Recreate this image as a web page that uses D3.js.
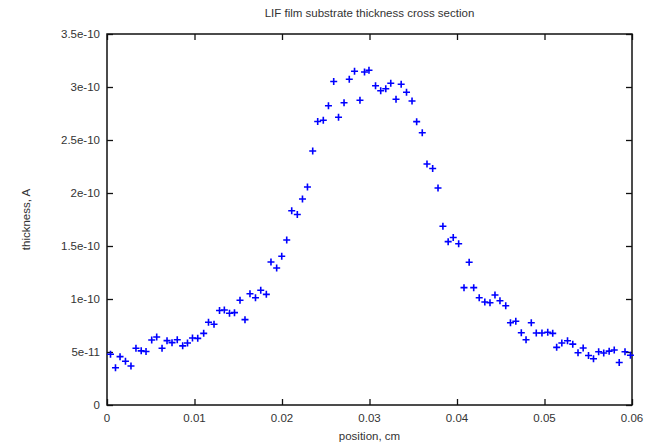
<!DOCTYPE html>
<html>
<head>
<meta charset="utf-8">
<script src="https://cdn.jsdelivr.net/npm/d3@7"></script>
<style>
	body { margin: 0; background: #fff; }
	text { font-family: "Liberation Sans", Arial, sans-serif; fill: #333; }
</style>
</head>
<body>
<svg id="chart" width="651" height="443"></svg>
<script>
// position along the sample, cm
var positions = [
	0.0004, 0.00097, 0.00149, 0.00211, 0.00274, 0.00331, 0.00391, 0.00446, 0.00511, 0.00568,
	0.00629, 0.00686, 0.00743, 0.00803, 0.00865, 0.0092, 0.00977, 0.01037, 0.01105, 0.0116,
	0.01223, 0.01286, 0.01341, 0.014, 0.01457, 0.0152, 0.01577, 0.01634, 0.01697, 0.01757,
	0.01821, 0.01874, 0.01939, 0.01997, 0.02054, 0.02111, 0.02175, 0.02234, 0.02291, 0.02351,
	0.02408, 0.02472, 0.02531, 0.02591, 0.02646, 0.02709, 0.02769, 0.02829, 0.02891, 0.02943,
	0.02994, 0.03069, 0.03128, 0.03186, 0.03243, 0.03303, 0.03362, 0.03423, 0.03486, 0.03539,
	0.03603, 0.03657, 0.03722, 0.03783, 0.03839, 0.03899, 0.03957, 0.04019, 0.0408, 0.04139,
	0.04191, 0.04254, 0.04318, 0.04377, 0.04434, 0.04491, 0.04557, 0.04611, 0.04672, 0.04735,
	0.04789, 0.04849, 0.04906, 0.04971, 0.05037, 0.05094, 0.05139, 0.05198, 0.05263, 0.05323,
	0.05383, 0.05442, 0.05503, 0.0556, 0.05619, 0.05677, 0.05739, 0.05797, 0.05854, 0.0592,
	0.05982
];

// thickness in units of 1e-10
var thickness = [
	0.479, 0.352, 0.456, 0.413, 0.368, 0.535, 0.511, 0.505, 0.613, 0.642,
	0.535, 0.607, 0.588, 0.616, 0.558, 0.585, 0.632, 0.629, 0.676, 0.780,
	0.762, 0.892, 0.896, 0.865, 0.871, 0.988, 0.805, 1.050, 1.012, 1.082,
	1.044, 1.349, 1.292, 1.403, 1.557, 1.833, 1.797, 1.943, 2.057, 2.396,
	2.675, 2.686, 2.823, 3.052, 2.714, 2.852, 3.073, 3.149, 2.875, 3.142,
	3.158, 3.012, 2.965, 2.984, 3.035, 2.884, 3.026, 2.950, 2.868, 2.673,
	2.569, 2.274, 2.231, 2.047, 1.687, 1.541, 1.580, 1.521, 1.107, 1.347,
	1.107, 1.012, 0.972, 0.965, 1.038, 0.983, 0.936, 0.776, 0.790, 0.681,
	0.616, 0.776, 0.679, 0.679, 0.686, 0.676, 0.544, 0.585, 0.606, 0.574,
	0.493, 0.538, 0.467, 0.437, 0.503, 0.491, 0.508, 0.519, 0.401, 0.503,
	0.470
];

var xTicks = [0, 0.01, 0.02, 0.03, 0.04, 0.05, 0.06];
var xTickLabels = ["0", "0.01", "0.02", "0.03", "0.04", "0.05", "0.06"];
var yTicks = [0, 0.5e-10, 1e-10, 1.5e-10, 2e-10, 2.5e-10, 3e-10, 3.5e-10];
var yTickLabels = ["0", "5e-11", "1e-10", "1.5e-10", "2e-10", "2.5e-10", "3e-10", "3.5e-10"];

var svg = d3.select("#chart");
var plotL = 107, plotR = 632, plotT = 34, plotB = 405;

var x = d3.scaleLinear().domain([0, 0.06]).range([plotL, plotR]);
var y = d3.scaleLinear().domain([0, 3.5e-10]).range([plotB, plotT]);

// gnuplot style: ticks pointing inward on all four sides
var tickLen = 6;
function noDomain(g) { g.select(".domain").remove(); }
svg.append("g")
	.attr("transform", "translate(0," + plotB + ")")
	.call(d3.axisTop(x).tickValues(xTicks).tickSize(tickLen).tickFormat(""))
	.call(noDomain);
svg.append("g")
	.attr("transform", "translate(0," + plotT + ")")
	.call(d3.axisBottom(x).tickValues(xTicks).tickSize(tickLen).tickFormat(""))
	.call(noDomain);
svg.append("g")
	.attr("transform", "translate(" + plotL + ",0)")
	.call(d3.axisRight(y).tickValues(yTicks).tickSize(tickLen).tickFormat(""))
	.call(noDomain);
svg.append("g")
	.attr("transform", "translate(" + plotR + ",0)")
	.call(d3.axisLeft(y).tickValues(yTicks).tickSize(tickLen).tickFormat(""))
	.call(noDomain);
svg.selectAll(".tick line").attr("stroke", "#111").attr("stroke-width", 1.3);

// tick labels
svg.append("g").selectAll("text")
	.data(xTicks)
	.enter().append("text")
		.attr("x", function(d) { return x(d); })
		.attr("y", plotB + 17)
		.attr("text-anchor", "middle")
		.style("font-size", "11.5px")
		.text(function(d, i) { return xTickLabels[i]; });
svg.append("g").selectAll("text")
	.data(yTicks)
	.enter().append("text")
		.attr("x", plotL - 7)
		.attr("y", function(d) { return y(d) + 4; })
		.attr("text-anchor", "end")
		.style("font-size", "11.5px")
		.text(function(d, i) { return yTickLabels[i]; });

// frame
svg.append("rect")
	.attr("x", plotL).attr("y", plotT)
	.attr("width", plotR - plotL).attr("height", plotB - plotT)
	.attr("fill", "none")
	.attr("stroke", "#111")
	.attr("stroke-width", 1.5);

// data points as + marks
var pts = positions.map(function(p, i) { return { x: p, y: thickness[i] * 1e-10 }; });
var s = 3.5;
svg.append("g").selectAll("path")
	.data(pts)
	.enter().append("path")
		.attr("d", function(d) {
			var p = d3.path();
			var cx = x(d.x), cy = y(d.y);
			p.moveTo(cx - s, cy); p.lineTo(cx + s, cy);
			p.moveTo(cx, cy - s); p.lineTo(cx, cy + s);
			return p.toString();
		})
		.attr("stroke", "#0000ff")
		.attr("stroke-width", 1.6)
		.attr("fill", "none");

// titles
svg.append("text")
	.attr("x", (plotL + plotR) / 2)
	.attr("y", 17)
	.attr("text-anchor", "middle")
	.style("font-size", "11.5px")
	.text("LIF film substrate thickness cross section");
svg.append("text")
	.attr("x", (plotL + plotR) / 2)
	.attr("y", 440)
	.attr("text-anchor", "middle")
	.style("font-size", "11.5px")
	.text("position, cm");
svg.append("text")
	.attr("transform", "translate(30," + ((plotT + plotB) / 2) + ") rotate(-90)")
	.attr("text-anchor", "middle")
	.style("font-size", "11.5px")
	.text("thickness, A");
</script>
</body>
</html>
